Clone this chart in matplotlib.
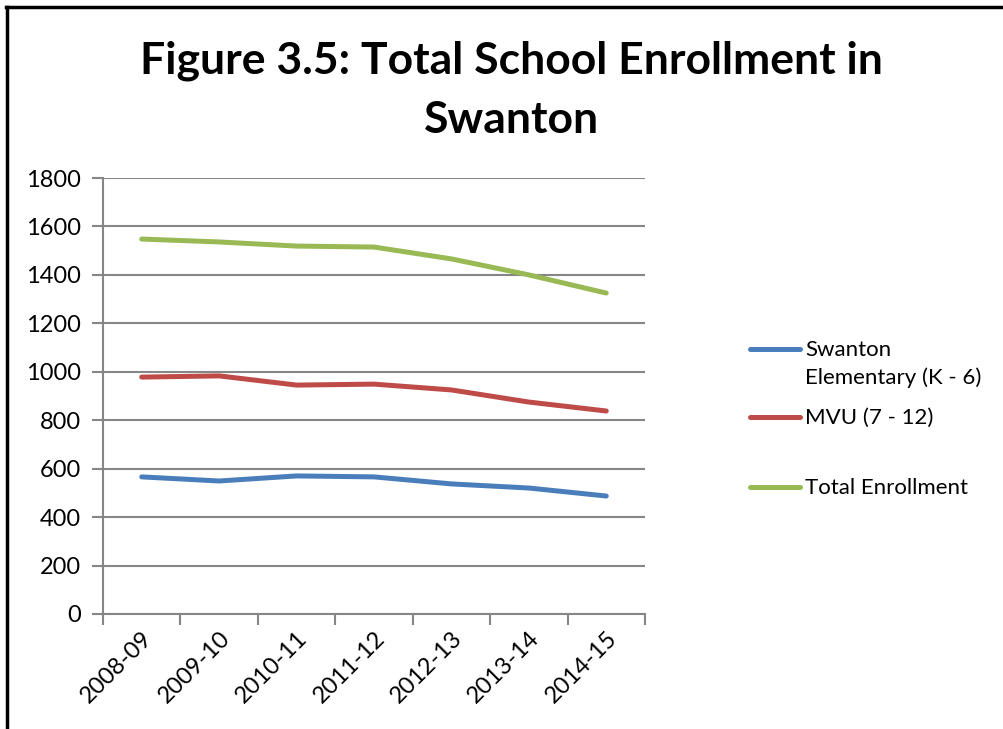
import matplotlib.pyplot as plt
from matplotlib.lines import Line2D

years = ['2008-09', '2009-10', '2010-11', '2011-12', '2012-13', '2013-14', '2014-15']
elementary = [566, 549, 570, 566, 537, 520, 487]
mvu = [978, 983, 945, 949, 925, 875, 838]
total = [1548, 1536, 1519, 1515, 1466, 1400, 1325]

series_labels = ['Swanton\nElementary (K - 6)', 'MVU (7 - 12)', 'Total Enrollment']
series_colors = ['#4A7EBB', '#BE4B48', '#98B954']

plt.rcParams['font.family'] = ['Lato', 'DejaVu Sans']

fig = plt.figure(figsize=(10.04, 7.29), dpi=100)
ax = fig.add_axes([0.1026, 0.1578, 0.5398, 0.598])

x = list(range(len(years)))
for vals, c in zip([elementary, mvu, total], series_colors):
    ax.plot(x, vals, color=c, linewidth=3.6, solid_capstyle='round')

# axis styling, Excel look
grid_c = '#868686'
ax.set_xlim(-0.5, len(years) - 0.5)
ax.set_ylim(0, 1800)
ax.set_yticks(range(0, 1801, 200))
ax.grid(axis='y', color=grid_c, linewidth=1.5)
ax.set_axisbelow(True)
for s in ['top', 'right']:
    ax.spines[s].set_visible(False)
for s in ['left', 'bottom']:
    ax.spines[s].set_color(grid_c)
    ax.spines[s].set_linewidth(1.5)

# tick marks between categories, labels at centres
ax.set_xticks([i - 0.5 for i in range(len(years) + 1)])
ax.set_xticklabels([])
ax.set_xticks(x, minor=True)
ax.set_xticklabels(years, minor=True, rotation=45, ha='right',
                   rotation_mode='anchor', fontsize=17)
ax.tick_params(axis='x', which='major', length=8, width=1.5, color=grid_c, direction='out')
ax.tick_params(axis='x', which='minor', length=0, pad=10)
ax.tick_params(axis='y', length=8, width=1.5, color=grid_c, labelsize=17, pad=8)

fig.text(0.509, 0.917, 'Figure 3.5: Total School Enrollment in', ha='center', va='center',
         fontsize=32, fontweight='bold')
fig.text(0.509, 0.836, 'Swanton', ha='center', va='center', fontsize=32, fontweight='bold')

# legend drawn by hand to keep Excel's uneven spacing
leg_y = [1 - 349 / 729, 1 - 417 / 729, 1 - 487 / 729]
for lab, c, yy in zip(series_labels, series_colors, leg_y):
    fig.add_artist(Line2D([0.747, 0.797], [yy, yy], color=c, linewidth=3.6,
                          solid_capstyle='round'))
    fig.text(0.802, yy + 0.012, lab, ha='left', va='top', fontsize=16, linespacing=1.45)

# frame on left and top
fig.add_artist(Line2D([0.007, 0.007], [0, 0.99], color='black', linewidth=2.5))
fig.add_artist(Line2D([0.006, 1.0], [0.99, 0.99], color='black', linewidth=2.5))

fig.savefig('out.png', dpi=100)
